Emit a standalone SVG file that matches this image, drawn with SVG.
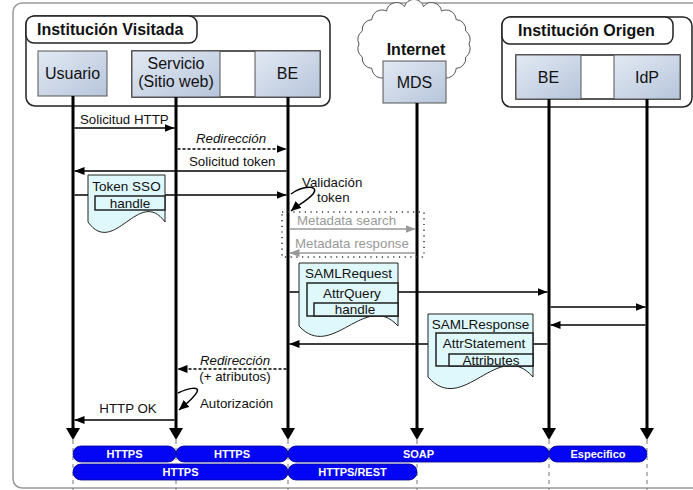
<svg xmlns="http://www.w3.org/2000/svg" width="693" height="490" viewBox="0 0 693 490">
<defs>
<linearGradient id="bx" x1="0" y1="0" x2="1" y2="1">
<stop offset="0" stop-color="#e2e9f3"/>
<stop offset="1" stop-color="#b7c5db"/>
</linearGradient>
<marker id="ah" viewBox="0 0 10 8" refX="10" refY="4" markerWidth="10" markerHeight="8" orient="auto" markerUnits="userSpaceOnUse"><path d="M0,0 L10,4 L0,8 z" fill="#000"/></marker>
<marker id="ahg" viewBox="0 0 10 8" refX="10" refY="4" markerWidth="10" markerHeight="8" orient="auto" markerUnits="userSpaceOnUse"><path d="M0,0 L10,4 L0,8 z" fill="#999"/></marker>
<marker id="ahl" viewBox="0 0 12 14" refX="2" refY="7" markerWidth="12" markerHeight="14" orient="auto" markerUnits="userSpaceOnUse"><path d="M0,0 L12,7 L0,14 z" fill="#000"/></marker>
<marker id="ahc" viewBox="0 0 10 9" refX="10" refY="4.5" markerWidth="10" markerHeight="9" orient="auto" markerUnits="userSpaceOnUse"><path d="M0,0 L10,4.5 L0,9 z" fill="#000"/></marker>
</defs>
<style>
text{font-family:"Liberation Sans",Arial,sans-serif;fill:#111}
.hdr{font-size:16px;font-weight:bold}
.nd{font-size:16px}
.lb{font-size:13.3px}
.it{font-style:italic}
.gr{fill:#999}
.dt{font-size:13.5px}
.box{fill:url(#bx);stroke:#555;stroke-width:1}
.grp{fill:#fff;stroke:#222;stroke-width:1.5}
.life{stroke:#000;stroke-width:3;fill:none}
.msg{stroke:#000;stroke-width:1.5;fill:none}
.dash{stroke-dasharray:3 2}
.gmsg{stroke:#999;stroke-width:1.5;fill:none}
.doc{fill:#dff8fb;stroke:#222;stroke-width:1}
.inr{fill:#dff8fb;stroke:#222;stroke-width:1.5}
.bar{fill:#0505f5;stroke:#00008b;stroke-width:0.8}
.bt{font-size:11px;font-weight:bold;fill:#fff}
.vd{stroke:#777;stroke-width:1;stroke-dasharray:4 4}
</style>

<rect x="13" y="3" width="700" height="485" rx="9" fill="#fff" stroke="#999" stroke-width="1.5"/>

<g id="inst-visitada">
<rect class="grp" x="26" y="16" width="304" height="90" rx="9"/>
<rect class="grp" x="26" y="16" width="171" height="27" rx="8"/>
<text class="hdr" x="37" y="35">Institución Visitada</text>
</g>
<g id="inst-origen">
<rect class="grp" x="502" y="17" width="190" height="90" rx="9"/>
<rect class="grp" x="502" y="17" width="171" height="27" rx="8"/>
<text class="hdr" x="518" y="36">Institución Origen</text>
</g>
<g id="internet">
<path d="M469,44 A10,10 0 0 1 465.7,57 A10,10 0 0 1 456.1,68.4 A10,10 0 0 1 441.5,76.9 A10,10 0 0 1 423.6,81.4 A10,10 0 0 1 404.4,81.4 A10,10 0 0 1 386.5,76.9 A10,10 0 0 1 371.9,68.4 A10,10 0 0 1 362.3,57 A10,10 0 0 1 359,44 A10,10 0 0 1 362.3,31 A10,10 0 0 1 371.9,19.6 A10,10 0 0 1 386.5,11.1 A10,10 0 0 1 404.4,6.6 A10,10 0 0 1 423.6,6.6 A10,10 0 0 1 441.5,11.1 A10,10 0 0 1 456.1,19.6 A10,10 0 0 1 465.7,31 A10,10 0 0 1 469,44 z" fill="#fff" stroke="#555" stroke-width="1"/>
<text class="hdr" x="416" y="55" text-anchor="middle">Internet</text>
</g>

<g id="usuario">
<rect class="box" x="38" y="51" width="69" height="45"/>
<text class="nd" x="72.5" y="79" text-anchor="middle">Usuario</text>
</g>
<rect x="132" y="51" width="188" height="46" fill="#fff" stroke="#222" stroke-width="1.5"/>
<g id="servicio">
<rect class="box" x="132" y="51" width="88" height="46"/>
<text class="nd" x="176" y="69" text-anchor="middle">Servicio</text>
<text class="nd" x="176" y="87" text-anchor="middle">(Sitio web)</text>
</g>
<g id="be-visitada">
<rect class="box" x="255" y="51" width="65" height="46"/>
<text class="nd" x="287.5" y="79" text-anchor="middle">BE</text>
</g>
<g id="mds">
<rect class="box" x="383" y="61" width="63" height="42"/>
<text class="nd" x="414.5" y="88" text-anchor="middle">MDS</text>
</g>
<rect x="516" y="55" width="164" height="44" fill="#fff" stroke="#222" stroke-width="1.5"/>
<g id="be-origen">
<rect class="box" x="516" y="55" width="65" height="44"/>
<text class="nd" x="548.5" y="83" text-anchor="middle">BE</text>
</g>
<g id="idp">
<rect class="box" x="614" y="55" width="66" height="44"/>
<text class="nd" x="647" y="83" text-anchor="middle">IdP</text>
</g>

<g id="protocols">
<line class="vd" x1="73" y1="440" x2="73" y2="490"/>
<line class="vd" x1="176" y1="440" x2="176" y2="490"/>
<line class="vd" x1="288" y1="440" x2="288" y2="490"/>
<line class="vd" x1="417" y1="440" x2="417" y2="490"/>
<line class="vd" x1="549" y1="440" x2="549" y2="490"/>
<line class="vd" x1="647" y1="440" x2="647" y2="490"/>
<rect class="bar" x="73" y="446" width="103" height="16" rx="8"/>
<rect class="bar" x="176" y="446" width="112" height="16" rx="8"/>
<rect class="bar" x="288" y="446" width="261" height="16" rx="8"/>
<rect class="bar" x="549" y="446" width="98" height="16" rx="8"/>
<rect class="bar" x="73" y="464" width="215" height="16" rx="8"/>
<rect class="bar" x="288" y="464" width="129" height="16" rx="8"/>
<text class="bt" x="124.5" y="458" text-anchor="middle">HTTPS</text>
<text class="bt" x="232" y="458" text-anchor="middle">HTTPS</text>
<text class="bt" x="418.5" y="458" text-anchor="middle">SOAP</text>
<text class="bt" x="598" y="458" text-anchor="middle">Especifico</text>
<text class="bt" x="180.5" y="476" text-anchor="middle">HTTPS</text>
<text class="bt" x="352.5" y="476" text-anchor="middle">HTTPS/REST</text>
</g>

<g id="connectors">
<line class="life" x1="73" y1="96" x2="73" y2="430" marker-end="url(#ahl)"/>
<line class="life" x1="176" y1="97" x2="176" y2="430" marker-end="url(#ahl)"/>
<line class="life" x1="288" y1="97" x2="288" y2="430" marker-end="url(#ahl)"/>
<line class="life" x1="417" y1="103" x2="417" y2="430" marker-end="url(#ahl)"/>
<line class="life" x1="549" y1="99" x2="549" y2="430" marker-end="url(#ahl)"/>
<line class="life" x1="647" y1="99" x2="647" y2="430" marker-end="url(#ahl)"/>

<line class="msg" x1="74.5" y1="128" x2="174.5" y2="128" marker-end="url(#ah)"/>
<line class="msg dash" x1="177.5" y1="149" x2="286.5" y2="149" marker-end="url(#ah)"/>
<line class="msg" x1="286.5" y1="171" x2="74.5" y2="171" marker-end="url(#ah)"/>
<line class="msg" x1="74.5" y1="195" x2="286.5" y2="195" marker-end="url(#ah)"/>
<path class="msg" d="M291,194 C303,185 320,185 313,194 C307,201 298,205 291,211" marker-end="url(#ahc)"/>
<path d="M282,212 H424 V257 H282 z" fill="none" stroke="#333" stroke-width="1.5" stroke-dasharray="1.2 4.5"/>
<line class="gmsg" x1="289.5" y1="229" x2="415.5" y2="229" marker-end="url(#ahg)"/>
<line class="gmsg" x1="415.5" y1="253" x2="289.5" y2="253" marker-end="url(#ahg)"/>
<line class="msg" x1="289.5" y1="292" x2="547.5" y2="292" marker-end="url(#ah)"/>
<line class="msg" x1="550.5" y1="307" x2="645.5" y2="307" marker-end="url(#ah)"/>
<line class="msg" x1="645.5" y1="325" x2="550.5" y2="325" marker-end="url(#ah)"/>
<line class="msg" x1="547.5" y1="344" x2="289.5" y2="344" marker-end="url(#ah)"/>
<line class="msg dash" x1="286.5" y1="369" x2="177.5" y2="369" marker-end="url(#ah)"/>
<path class="msg" d="M178,393 C188,388 200,386 197,392 C194,398 186,404 179,410" marker-end="url(#ahc)"/>
<line class="msg" x1="174.5" y1="420" x2="74.5" y2="420" marker-end="url(#ah)"/>
</g>

<g id="labels">
<text class="lb" x="80" y="124">Solicitud HTTP</text>
<text class="lb it" x="231" y="143" text-anchor="middle">Redirección</text>
<text class="lb" x="189" y="166">Solicitud token</text>
<text class="lb" x="302" y="187">Validación</text>
<text class="lb" x="317" y="202">token</text>
<text class="lb gr" x="297" y="225">Metadata search</text>
<text class="lb gr" x="295" y="248">Metadata response</text>
<text class="lb it" x="235" y="365" text-anchor="middle">Redirección</text>
<text class="lb" x="235" y="381" text-anchor="middle">(+ atributos)</text>
<text class="lb" x="200" y="408">Autorización</text>
<text class="lb" x="128" y="413" text-anchor="middle">HTTP OK</text>
</g>

<g id="token-sso">
<path class="doc" d="M88,175 H165 V222 C139,186 114,258 88,222 z"/>
<text class="dt" x="126.5" y="191" text-anchor="middle">Token SSO</text>
<rect class="inr" x="95" y="196" width="70" height="14"/>
<text class="dt" x="130" y="208" text-anchor="middle">handle</text>
</g>
<g id="saml-request">
<path class="doc" d="M299,263 H398 V326 C365,290 332,362 299,326 z"/>
<text class="dt" x="348.5" y="278" text-anchor="middle">SAMLRequest</text>
<rect class="inr" x="307" y="283" width="91" height="33"/>
<text class="dt" x="352" y="298" text-anchor="middle">AttrQuery</text>
<rect class="inr" x="314" y="303" width="84" height="13"/>
<text class="dt" x="355" y="314" text-anchor="middle">handle</text>
</g>
<g id="saml-response">
<path class="doc" d="M428,314 H533 V377 C498,337 463,417 428,377 z"/>
<text class="dt" x="480.5" y="329" text-anchor="middle">SAMLResponse</text>
<rect class="inr" x="436" y="333" width="97" height="33"/>
<text class="dt" x="484" y="348" text-anchor="middle">AttrStatement</text>
<rect class="inr" x="449" y="354" width="84" height="12"/>
<text class="dt" x="491" y="365" text-anchor="middle">Attributes</text>
</g>
</svg>
